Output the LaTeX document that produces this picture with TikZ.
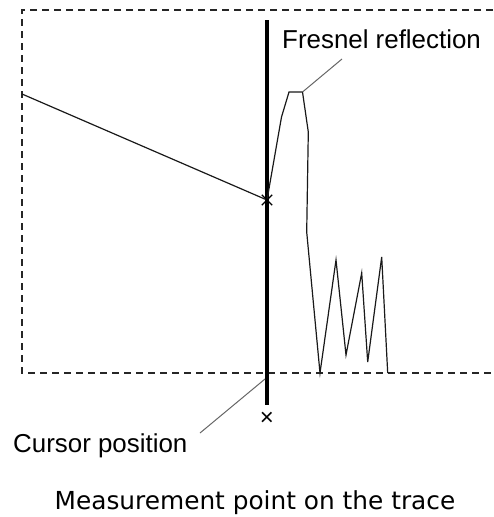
\documentclass[tikz,border=0pt]{standalone}
\usepackage{fontspec}
\setmainfont{Liberation Sans}
\newfontfamily\capfont{DejaVu Sans}
\usetikzlibrary{positioning, shapes.misc}

\begin{document}
\begin{tikzpicture}[
    x=1pt, y=-1pt,
    txt/.style={font=\fontsize{25.9}{30}\selectfont, inner sep=0pt},
    frame/.style={dash pattern=on 7pt off 5pt, line width=1.6pt, black!85},
    trace/.style={line width=1.2pt, black!90},
    leader/.style={line width=1pt, black!60},
    cursor/.style={line width=4pt, black},
    xmark/.style={draw, cross out, minimum size=9pt, inner sep=0pt, line width=1.3pt}
  ]
  \useasboundingbox (0,0) rectangle (493,517);

  % Display frame (open on the right)
  \coordinate (ftr) at (493,10);
  \coordinate (ftl) at (22,10);
  \coordinate (fbl) at (22,373);
  \coordinate (fbr) at (493,373);
  \draw[frame] (ftr) -- (ftl) -- (fbl) -- (fbr);

  % Cursor
  \coordinate (ctop) at (267,20);
  \coordinate (cbot) at (267,405);
  \draw[cursor] (ctop) -- (cbot);
  \node[txt, font=\fontsize{24}{28}\selectfont] (cx) at (267,419) {×};

  % Trace
  \coordinate (t0) at (22,94);
  \coordinate (peakl) at (289,92);
  \coordinate (peakr) at (302.5,92);
  \draw[trace] (t0) -- (267,200) -- (281.5,117) -- (peakl) -- (peakr)
    -- (308.3,132) -- (306.7,232) -- (320,373) -- (336,260) -- (346,355)
    -- (361.7,273) -- (367.7,362) -- (381.7,257) -- (387.7,373);
  \node[xmark] (mp) at (267,200) {};

  % Labels
  \node[txt, anchor=base west] (fresnel) at (282,48) {Fresnel reflection};
  \coordinate (fl) at (342,59);
  \draw[leader] (fl) -- (peakr);

  \node[txt, anchor=base west] (cpos) at (13,452) {Cursor position};
  \coordinate (cl) at (200,433);
  \coordinate (cf) at (265,379);
  \draw[leader] (cl) -- (cf);

  \node[inner sep=0pt, anchor=base, font=\capfont\fontsize{24.8}{29}\selectfont]
    (caption) at (255,509) {Measurement point on the trace};
\end{tikzpicture}
\end{document}
